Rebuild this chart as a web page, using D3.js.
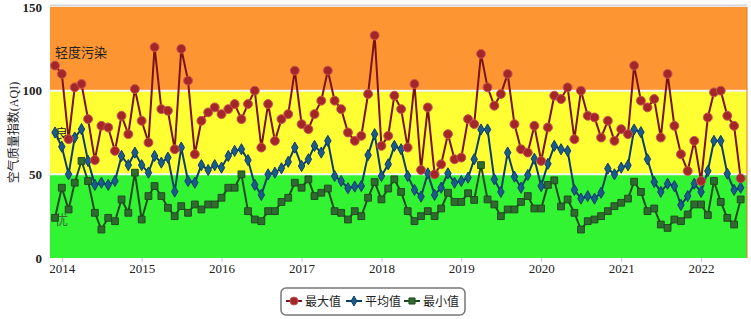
<!doctype html>
<html>
  <head>
    <meta charset="utf-8">
    <script src="https://cdnjs.cloudflare.com/ajax/libs/d3/7.8.5/d3.min.js"></script>
    <style>
      body { margin: 0; background: #fff; }
      text { font-family: "Liberation Serif", "Noto Sans CJK SC", serif; }
    </style>
  </head>
  <body>
    <svg id="chart" style="width: 751px; height: 319px;"></svg>
    <script>
        // monthly values, Dec 2013 .. Jul 2022
        var startMonth = new Date(2013, 11, 1);
        var maxVals = [115, 110, 71, 102, 104, 83, 58.5, 79, 78, 64, 85, 74,
                       101, 82, 69, 126, 89, 88, 65, 125, 106, 62, 82, 87,
                       90, 86, 89, 92, 83, 92, 100, 66, 92, 70, 83, 86,
                       112, 80, 77, 86, 94, 112, 94, 89, 75, 70, 73, 98,
                       133, 67, 73, 97, 89, 66, 104, 52.6, 90, 50, 56, 74,
                       59, 60, 83, 80, 122, 102, 91, 98, 110, 80, 65, 63,
                       79, 58, 78, 97, 95, 102, 71, 100, 85, 84, 72, 82,
                       70, 77, 74, 115, 94, 90, 95, 72, 110, 79, 62, 52,
                       70, 46, 84, 99, 100, 85, 79, 47.6];
        var avgVals = [75, 66.5, 50, 72, 77, 58, 43.7, 45, 43.7, 46, 61, 55.5,
                       63, 55.5, 51, 61, 57, 60, 39.7, 66, 46, 45, 55.5, 52.6,
                       55.5, 54, 61, 64, 65, 58.5, 43.7, 37.7, 50, 51, 53.6, 57.5,
                       66, 55, 59, 67, 63, 70, 49, 46, 41.7, 42.7, 43, 61.5,
                       74, 49, 56, 67, 65, 49, 40.7, 36.7, 50.6, 37.7, 42, 50.6,
                       45, 46, 48, 59, 76.8, 76.8, 47, 39.5, 63, 48.6, 42, 49.6,
                       59.3, 43, 56.3, 67, 65, 64, 40.7, 35.5, 37, 35.5, 39, 53.4,
                       50, 54, 55.4, 76.8, 75.2, 59, 45.4, 39.5, 44.4, 43, 31.7, 37,
                       44.4, 39.5, 52, 70, 70, 50.4, 40.7, 42];
        var minVals = [24, 42, 29, 45, 58, 46, 27, 17, 24, 22, 35, 27,
                       51, 23, 37, 43, 37, 30, 25, 31, 27, 32, 29, 32,
                       32, 36, 42, 42, 50, 28, 23, 22, 28, 28, 33.5, 36,
                       45, 42, 47, 37, 39, 41.5, 28, 27, 23, 28, 25, 36,
                       45.4, 35, 41.5, 47, 39.5, 28, 22, 25, 28, 25, 29.6, 39,
                       33.5, 33.5, 38.7, 34.7, 55.5, 35, 32, 25, 29, 29, 33.5, 37,
                       29.6, 29.6, 43.7, 46.4, 30.8, 35, 27, 17, 22, 23, 25, 28,
                       31, 33, 35.5, 45.6, 39.5, 28, 29.6, 20, 18, 23, 22, 26,
                       32, 32, 25.6, 46, 33.5, 24, 20, 35];
        var yTicks = [0, 50, 100, 150];
        var xTickYears = [2014, 2015, 2016, 2017, 2018, 2019, 2020, 2021, 2022];
        var bands = [
            {from: 0, to: 50, color: "#33f433", label: "优", ly: 32},
            {from: 50, to: 100, color: "#ffff33", label: "良", ly: 29},
            {from: 100, to: 150, color: "#fe9533", label: "轻度污染", ly: 32}
        ];
        var seriesNames = ["最大值", "平均值", "最小值"];

        var months = maxVals.map((d, i) => new Date(startMonth.getFullYear(), startMonth.getMonth() + i, 1));

        var svg = d3.select("#chart");
        var pLeft = 50, pRight = 747, pTop = 7, pBottom = 258;

        var xScale = d3.scaleTime()
            .domain([new Date(2013, 10, 8), new Date(2022, 6, 30)])
            .range([pLeft, pRight]);
        var yScale = d3.scaleLinear().domain([0, 150]).range([pBottom, pTop]);

        // background bands
        svg.append("line").attr("x1", pLeft).attr("x2", pRight)
            .attr("y1", pTop - 1.5).attr("y2", pTop - 1.5)
            .style("stroke", "#d6d6d6").style("stroke-width", 2);
        svg.selectAll(".band").data(bands).enter().append("rect")
            .attr("x", pLeft)
            .attr("y", d => yScale(d.to))
            .attr("width", pRight - pLeft)
            .attr("height", d => yScale(d.from) - yScale(d.to))
            .style("fill", d => d.color);
        svg.selectAll(".sep").data([50, 100]).enter().append("line")
            .attr("x1", pLeft).attr("x2", pRight)
            .attr("y1", d => yScale(d)).attr("y2", d => yScale(d))
            .style("stroke", "#f4f4f4").style("stroke-width", 2);
        svg.append("line").attr("x1", pRight).attr("x2", pRight)
            .attr("y1", pTop).attr("y2", pBottom)
            .style("stroke", "#e07a20").style("stroke-width", 1);

        svg.selectAll(".bandlabel").data(bands).enter().append("text")
            .attr("x", 55)
            .attr("y", d => yScale(d.to) + d.ly + 18)
            .style("font-size", "13px")
            .style("fill", d => d.from == 0 ? "#3b6b3b" : "#222")
            .text(d => d.label);

        // axes
        var yAxis = d3.axisLeft(yScale).tickValues(yTicks).tickSize(0).tickPadding(8);
        var yG = svg.append("g").attr("transform", "translate(" + pLeft + ",0)").call(yAxis);
        yG.select(".domain").remove();
        yG.selectAll("text").style("font-size", "13px").style("font-weight", "bold").style("fill", "#222")
            .style("font-family", "Liberation Serif");

        var xAxis = d3.axisBottom(xScale)
            .tickValues(xTickYears.map(y => new Date(y, 0, 1)))
            .tickFormat(d3.timeFormat("%Y"))
            .tickSize(4).tickPadding(2);
        var xG = svg.append("g").attr("transform", "translate(0," + pBottom + ")").call(xAxis);
        xG.select(".domain").remove();
        xG.selectAll("line").style("stroke", "#b8c8e0");
        xG.selectAll("text").style("font-size", "13px").style("fill", "#222")
            .style("font-family", "Liberation Serif");

        svg.append("text")
            .attr("transform", "translate(18," + ((pTop + pBottom) / 2) + ") rotate(-90)")
            .attr("text-anchor", "middle")
            .style("font-size", "12px").style("fill", "#222")
            .text("空气质量指数(AQI)");

        // series
        var series = [
            {name: seriesNames[0], values: maxVals, line: "#7a1216", fill: "#a3262a", stroke: "#c9554f", sym: d3.symbolCircle, size: 62},
            {name: seriesNames[1], values: avgVals, line: "#0d3f66", fill: "#1a5a8c", stroke: "#0d3f66", sym: d3.symbolDiamond, size: 36},
            {name: seriesNames[2], values: minVals, line: "#1f4a1f", fill: "#2f6a2f", stroke: "#244a24", sym: d3.symbolSquare, size: 46}
        ];
        var line = d3.line().x((d, i) => xScale(months[i])).y(d => yScale(d));

        series.slice().reverse().forEach(function(s) {
            svg.append("path")
                .attr("d", line(s.values))
                .style("fill", "none")
                .style("stroke", s.line)
                .style("stroke-width", "2px");
            svg.append("g").selectAll("path").data(s.values).enter().append("path")
                .attr("d", d3.symbol().type(s.sym).size(s.size))
                .attr("transform", (d, i) => "translate(" + xScale(months[i]) + "," + yScale(d) + ")")
                .style("fill", s.fill)
                .style("stroke", s.stroke)
                .style("stroke-width", "1px");
        });

        // legend
        var lg = svg.append("g");
        lg.append("rect").attr("x", 281).attr("y", 288).attr("width", 184).attr("height", 27)
            .attr("rx", 5).style("fill", "#fff").style("stroke", "#777").style("stroke-width", 1.5);
        var legendX = [294, 354, 412];
        series.forEach(function(s, i) {
            var g = lg.append("g").attr("transform", "translate(" + legendX[i] + ",301)");
            g.append("line").attr("x1", -8).attr("x2", 8).style("stroke", s.line).style("stroke-width", 2);
            g.append("path").attr("d", d3.symbol().type(s.sym).size(s.size * 0.8))
                .style("fill", s.fill).style("stroke", s.stroke);
            g.append("text").attr("x", 11).attr("y", 5)
                .style("font-size", "12px").style("fill", "#222")
                .text(s.name);
        });
    </script>
  </body>
</html>
